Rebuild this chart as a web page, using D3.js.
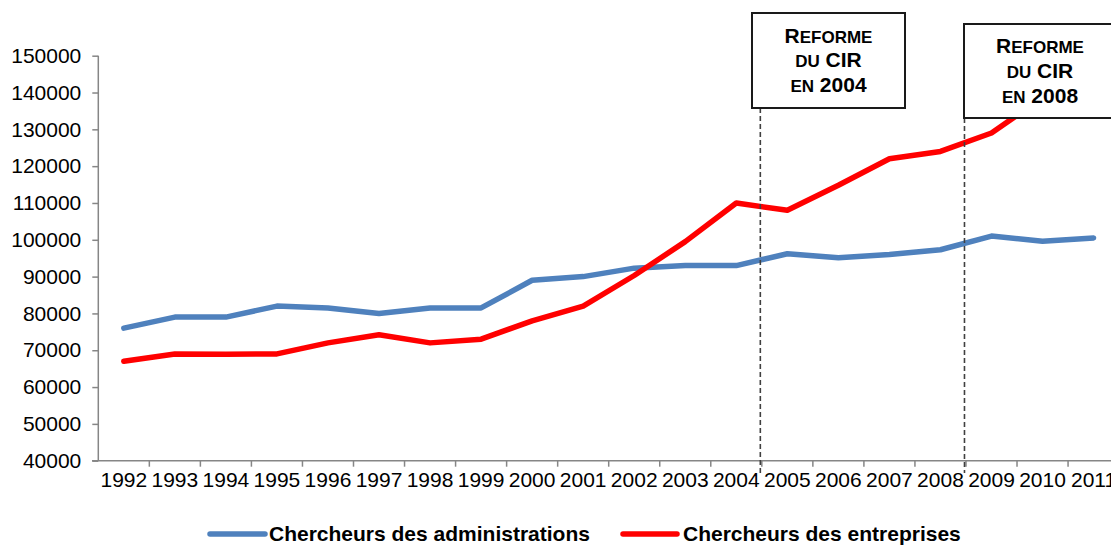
<!DOCTYPE html>
<html>
<head>
<meta charset="utf-8">
<script src="https://cdn.jsdelivr.net/npm/d3@7"></script>
<style>
  html, body { margin: 0; padding: 0; background: #fff; }
  svg { display: block; font-family: "Liberation Sans", Arial, sans-serif; }
</style>
</head>
<body>
<svg id="chart" width="1111" height="545"></svg>
<script>
const years = ["1992","1993","1994","1995","1996","1997","1998","1999","2000","2001",
               "2002","2003","2004","2005","2006","2007","2008","2009","2010","2011"];
const administrations = [76000, 79000, 79000, 82000, 81500, 80000, 81500, 81500, 89000, 90000,
                         92300, 93000, 93000, 96200, 95100, 96000, 97300, 101000, 99600, 100500];
const entreprises = [67000, 69000, 68900, 69000, 72000, 74200, 72000, 73000, 78000, 82000,
                     90300, 99500, 110000, 108000, 114800, 122000, 124000, 129000, 138600, 145000];
const yTicks = [40000, 50000, 60000, 70000, 80000, 90000, 100000, 110000, 120000, 130000, 140000, 150000];
const seriesNames = ["Chercheurs des administrations", "Chercheurs des entreprises"];
const seriesColors = ["#4F81BD", "#FF0000"];
const reforms = [
  { after: "2004", year: "2004" },
  { after: "2008", year: "2008" }
];

const svg = d3.select("#chart");
const x = d3.scaleBand().domain(years).range([98.3, 98.3 + 20 * 51.04]);
const y = d3.scaleLinear().domain([40000, 150000]).range([460.7, 55.7]);
const cx = d => x(d) + x.bandwidth() / 2;

// Y axis
const yAxis = svg.append("g").attr("transform", "translate(98.3,0)")
  .call(d3.axisLeft(y).tickValues(yTicks).tickSize(6).tickPadding(11).tickFormat(d3.format("d")));
yAxis.select(".domain").attr("stroke", "#868686").attr("stroke-width", 1.5).attr("d", `M0,${y(150000)}V${y(40000)}`);
yAxis.selectAll(".tick line").attr("stroke", "#868686").attr("stroke-width", 1.5);
yAxis.selectAll(".tick text").attr("font-size", 21).attr("fill", "#000")
  .attr("font-family", "'Liberation Sans', Arial, sans-serif");

// X axis
const xAxisG = svg.append("g").attr("transform", `translate(0,${y(40000)})`);
xAxisG.append("line").attr("x1", 92).attr("x2", 1111).attr("y1", 0).attr("y2", 0)
  .attr("stroke", "#868686").attr("stroke-width", 1.5);
const boundaries = years.map(d => x(d)).concat([x(years[years.length - 1]) + x.bandwidth()]);
xAxisG.selectAll("line.tk").data(boundaries.slice(1)).enter().append("line")
  .attr("class", "tk").attr("x1", d => d).attr("x2", d => d).attr("y1", 0).attr("y2", 6)
  .attr("stroke", "#868686").attr("stroke-width", 1.5);
xAxisG.selectAll("text").data(years).enter().append("text")
  .attr("x", d => cx(d)).attr("y", 26.5).attr("text-anchor", "middle")
  .attr("font-size", 21).attr("fill", "#000").text(d => d);

// Lines
const lineGen = d3.line().x((d, i) => cx(years[i])).y(d => y(d));
[administrations, entreprises].forEach((s, i) => {
  svg.append("path").datum(s).attr("d", lineGen).attr("fill", "none")
    .attr("stroke", seriesColors[i]).attr("stroke-width", 5.5)
    .attr("stroke-linejoin", "round").attr("stroke-linecap", "round");
});

// Reform markers
const boxes = [
  { x0: 752, x1: 905, y0: 13, y1: 108, base: 42.7 },
  { x0: 964, x1: 1116, y0: 24, y1: 118, base: 53.3 }
];
reforms.forEach((r, i) => {
  const b = boxes[i];
  const xl = x(r.after) + x.bandwidth() - 1.5;
  svg.append("line").attr("x1", xl).attr("x2", xl).attr("y1", b.y1).attr("y2", 473)
    .attr("stroke", "#404040").attr("stroke-width", 1.6).attr("stroke-dasharray", "5,3");
  svg.append("rect").attr("x", b.x0).attr("y", b.y0).attr("width", b.x1 - b.x0).attr("height", b.y1 - b.y0)
    .attr("fill", "#fff").attr("stroke", "#1a1a1a").attr("stroke-width", 2);
  const mid = (b.x0 + b.x1) / 2;
  const lines = [
    [["R", 21], ["EFORME", 17]],
    [["DU", 17], [" CIR", 21]],
    [["EN", 17], [" " + r.year, 21]]
  ];
  lines.forEach((ln, j) => {
    const t = svg.append("text").attr("x", mid).attr("y", b.base + j * 24.6)
      .attr("text-anchor", "middle").attr("font-weight", "bold").attr("fill", "#000");
    ln.forEach(([txt, fs]) => t.append("tspan").attr("font-size", fs).text(txt));
  });
});

// Legend
const legend = [
  { lx0: 210, lx1: 265, tx: 269 },
  { lx0: 623, lx1: 677, tx: 683 }
];
legend.forEach((l, i) => {
  svg.append("line").attr("x1", l.lx0).attr("x2", l.lx1).attr("y1", 534).attr("y2", 534)
    .attr("stroke", seriesColors[i]).attr("stroke-width", 5.5).attr("stroke-linecap", "round");
  svg.append("text").attr("x", l.tx).attr("y", 541).attr("font-size", 21).attr("font-weight", "bold")
    .attr("fill", "#000").text(seriesNames[i]);
});
</script>
</body>
</html>
